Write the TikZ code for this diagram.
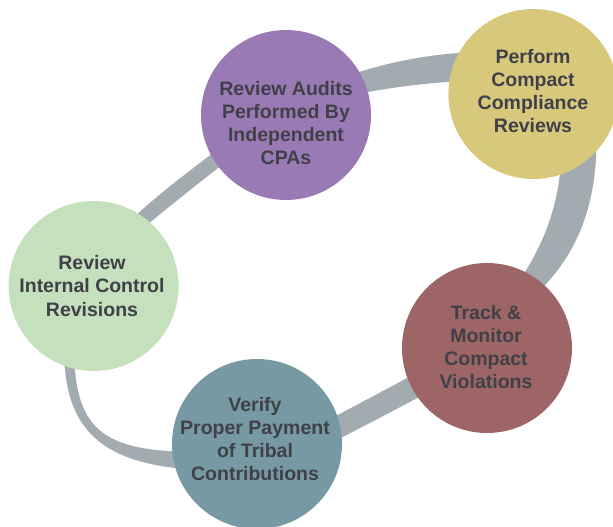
\documentclass[tikz,border=0pt]{standalone}
\usepackage{fontspec}
\setmainfont{Liberation Sans}
\definecolor{cpurple}{RGB}{154,122,181}
\definecolor{cyellow}{RGB}{216,200,124}
\definecolor{cred}{RGB}{158,101,102}
\definecolor{cteal}{RGB}{118,153,163}
\definecolor{cgreen}{RGB}{197,224,188}
\definecolor{cband}{RGB}{162,171,176}
\definecolor{ctext}{RGB}{64,64,72}
\begin{document}
\begin{tikzpicture}[x=1pt,y=-1pt,
  circ/.style={circle, minimum size=170pt, inner sep=0pt, draw=none},
  lbl/.style={align=center, font=\fontsize{19.5}{23.3}\selectfont\bfseries, text=ctext, inner sep=0pt},
  band/.style={fill=cband}]
\useasboundingbox (0,0) rectangle (613,527);
\clip (0,0) rectangle (613,527);
% ring band segments (their ends lie under the circles)
\fill[band] (64,340) .. controls (62,425) and (95,465) .. (200,470)
  -- (200,452) .. controls (100,452) and (73,430) .. (74,340) -- cycle;
\fill[band] (300,458.8) .. controls (345,436) and (395,410) .. (440,386)
  -- (440,360) .. controls (395,385) and (345,411) .. (300,434.8) -- cycle;
\fill[band] (530,300) .. controls (580,255) and (600,200) .. (596,120)
  -- (562,140) .. controls (562,200) and (545,250) .. (505,300) -- cycle;
\fill[band] (480,52) .. controls (430,53) and (380,63) .. (330,82)
  -- (330,100) .. controls (380,88) and (430,82) .. (480,80) -- cycle;
\fill[band] (240,133) .. controls (190,170) and (150,200) .. (115,235)
  -- (118,250) .. controls (155,217) and (200,182) .. (245,147) -- cycle;
% circles
\node[circ, fill=cpurple] (audits) at (286,115) {};
\node[circ, fill=cyellow] (compliance) at (533.4,94) {};
\node[circ, fill=cred] (violations) at (487,348) {};
\node[circ, fill=cteal] (payment) at (257,444) {};
\node[circ, fill=cgreen] (internal) at (93.6,286) {};
% labels
\node[lbl] (auditsT) at (286,123) {Review Audits\\Performed By\\Independent\\CPAs};
\node[lbl] (complianceT) at (533,91) {Perform\\Compact\\Compliance\\Reviews};
\node[lbl] (violationsT) at (486,347) {Track \&\\Monitor\\Compact\\Violations};
\node[lbl] (paymentT) at (255,439) {Verify\\Proper Payment\\of Tribal\\Contributions};
\node[lbl] (internalT) at (92,286) {Review\\Internal Control\\Revisions};
\end{tikzpicture}
\end{document}
